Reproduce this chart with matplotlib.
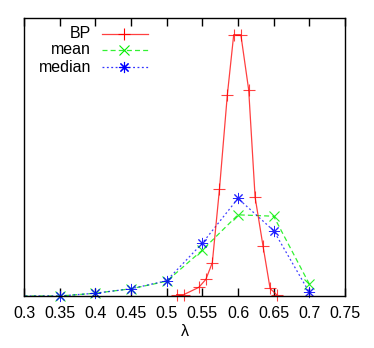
import matplotlib
matplotlib.use("Agg")
import matplotlib.pyplot as plt
from matplotlib.lines import Line2D

plt.rcParams['font.family'] = ['Liberation Sans', 'DejaVu Sans']

# BP curve
bp_lam = [0.514, 0.524, 0.545, 0.555, 0.564, 0.574, 0.585, 0.594, 0.604,
          0.615, 0.624, 0.635, 0.645, 0.654]
bp_val = [0.005, 0.005, 0.031, 0.060, 0.120, 0.384, 0.722, 0.940, 0.940,
          0.741, 0.355, 0.181, 0.027, 0.005]

# mean / median curves (first two points lie left of the visible range)
mm_lam = [0.25, 0.30, 0.35, 0.40, 0.45, 0.50, 0.55, 0.60, 0.65, 0.70]
mean_val = [0.0, 0.0, 0.0, 0.010, 0.026, 0.053, 0.165, 0.292, 0.287, 0.043]
median_val = [0.0, 0.0, 0.0, 0.010, 0.026, 0.055, 0.190, 0.351, 0.235, 0.013]

xticks = [0.3, 0.35, 0.4, 0.45, 0.5, 0.55, 0.6, 0.65, 0.7, 0.75]
xticklabels = ['0.3', '0.35', '0.4', '0.45', '0.5', '0.55', '0.6', '0.65', '0.7', '0.75']

RED, GREEN, BLUE = '#ff0000', '#00ee00', '#0000ff'
FS = 11.5

fig = plt.figure(figsize=(3.74, 3.48), dpi=100)
ax = fig.add_axes([24/374, 1-296/348, (345-24)/374, (296-18)/348])
ax.set_xlim(0.3, 0.75)
ax.set_ylim(0, 1.0)

vis = [i for i, l in enumerate(mm_lam) if l > 0.31]

# lines (clipped)
ax.plot(mm_lam, mean_val, color=GREEN, lw=0.9, ls=(0, (4, 2.5)), alpha=0.8)
ax.plot(mm_lam, median_val, color=BLUE, lw=0.9, ls=(0, (1.5, 2)), alpha=0.75)
ax.plot(bp_lam, bp_val, color=RED, lw=0.9, alpha=0.75, marker='+', ms=8,
        mew=0.8, clip_on=False)
# markers (unclipped)
ax.plot([mm_lam[i] for i in vis], [mean_val[i] for i in vis], ls='none',
        marker='x', ms=7, mew=0.8, color=GREEN, alpha=0.85, clip_on=False)
ax.plot([mm_lam[i] for i in vis], [median_val[i] for i in vis], ls='none',
        marker=(8, 2, 0), ms=8, mew=0.7, color=BLUE, alpha=0.85, clip_on=False)

ax.set_xticks(xticks)
ax.set_xticklabels(xticklabels)
ax.set_yticks([])
ax.tick_params(axis='x', direction='in', length=6, width=1, top=True,
               labelsize=FS, pad=7, colors='black')
for s in ax.spines.values():
    s.set_linewidth(1.0)
ax.set_xlabel('λ', fontsize=FS, labelpad=2)

# gnuplot-style key (text right-aligned left of sample)
rows = [('BP', dict(color=RED, ls='-', marker='+', ms=8, alpha=0.75)),
        ('mean', dict(color=GREEN, ls=(0, (4, 2.5)), marker='x', ms=7)),
        ('median', dict(color=BLUE, ls=(0, (1.5, 2)), marker=(8, 2, 0), ms=8))]
ys = [34, 50, 67]
for (lab, kw), y in zip(rows, ys):
    fy = 1 - y/348
    fig.text(91/374, fy, lab, ha='right', va='center', fontsize=FS)
    fig.add_artist(Line2D([102/374, 148/374], [fy, fy], lw=0.9,
                          color=kw['color'], ls=kw['ls'], alpha=kw.get('alpha', 0.8)))
    fig.add_artist(Line2D([124/374], [fy], ls='none', marker=kw['marker'],
                          ms=kw['ms'], mew=0.8, color=kw['color']))

fig.savefig('out.png', dpi=100)
